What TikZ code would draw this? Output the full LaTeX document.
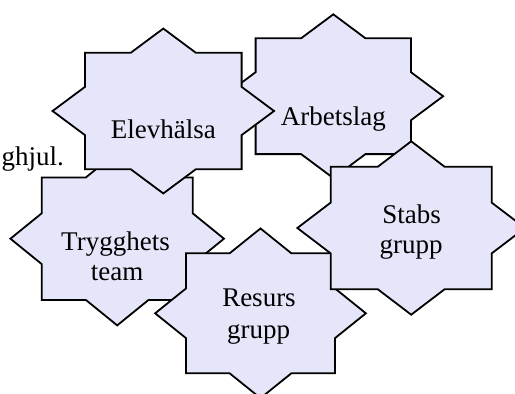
\documentclass[tikz,border=0pt]{standalone}
\usepackage{fontspec}
\setmainfont{Liberation Serif}
\definecolor{starfill}{RGB}{230,230,250}
\tikzset{
  starpath/.style={draw=black, fill=starfill, line width=1.8pt, line join=miter},
  lbl/.style={font=\fontsize{27}{30}\selectfont, inner sep=0pt, anchor=base}
}
% name, cx, cy, half-width a, half-height b
\newcommand\octstar[5]{%
  \begin{scope}[shift={(#2,#3)}]
    \coordinate (#1) at (0,0);
    \path[starpath]
      (0,{-1.41421*#5}) -- ({0.41421*#4},{-#5}) -- ({#4},{-#5}) -- ({#4},{-0.41421*#5})
      -- ({1.41421*#4},0) -- ({#4},{0.41421*#5}) -- ({#4},{#5}) -- ({0.41421*#4},{#5})
      -- (0,{1.41421*#5}) -- ({-0.41421*#4},{#5}) -- ({-#4},{#5}) -- ({-#4},{0.41421*#5})
      -- ({-1.41421*#4},0) -- ({-#4},{-0.41421*#5}) -- ({-#4},{-#5}) -- ({-0.41421*#4},{-#5})
      -- cycle;
  \end{scope}}
\begin{document}
\begin{tikzpicture}[x=1pt,y=-1pt]
  \useasboundingbox (0,0) rectangle (515,394);
  \fill[white] (0,0) rectangle (515,394);
  \clip (0,0) rectangle (515,394);

  \node[lbl, anchor=base east] (ghjul) at (64,165) {ghjul.};

  \octstar{arb}{333.3}{96.2}{77.7}{57.9}
  \node[lbl] (arbt) at (333.3,125) {Arbetslag};

  \octstar{tryg}{117.2}{238.7}{75.5}{61.3}
  \node[lbl] (tryga) at (115.5,250.7) {Trygghets};
  \node[lbl] (trygb) at (117.2,280.7) {team};

  \octstar{res}{260.5}{313.3}{74.5}{60}
  \node[lbl] (resa) at (259,306.7) {Resurs};
  \node[lbl] (resb) at (258.7,338.3) {grupp};

  \octstar{stab}{411.2}{228}{80.5}{61.3}
  \node[lbl] (staba) at (411.7,223.3) {Stabs};
  \node[lbl] (stabb) at (411.2,253.3) {grupp};

  \octstar{elev}{163.3}{111}{78.3}{58.3}
  \node[lbl] (elevt) at (163.3,138.3) {Elevhälsa};
\end{tikzpicture}
\end{document}
